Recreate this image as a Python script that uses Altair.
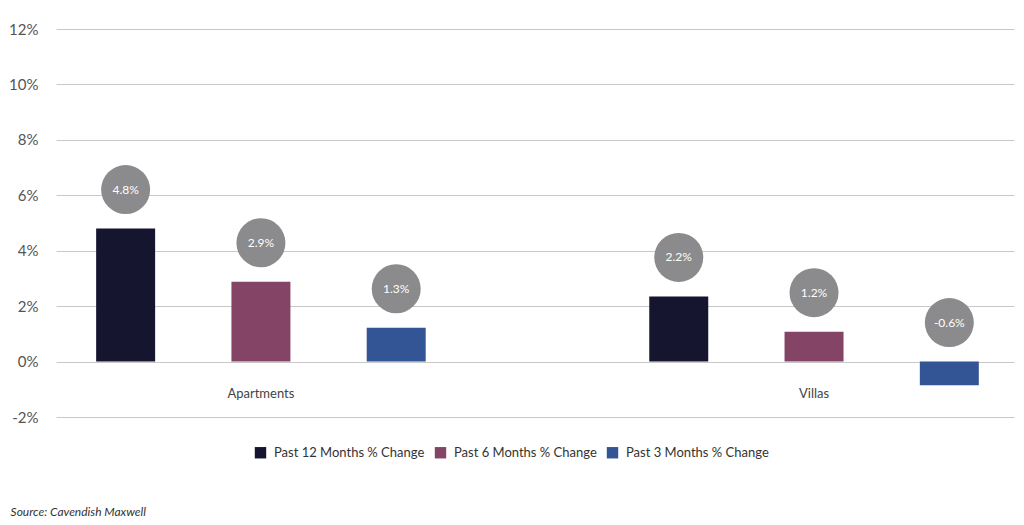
import altair as alt
import pandas as pd

categories = ["Apartments", "Villas"]
series = ["Past 12 Months % Change", "Past 6 Months % Change", "Past 3 Months % Change"]
apartments_values = [4.8, 2.88, 1.22]
villas_values = [2.35, 1.08, -0.85]
apartments_labels = ["4.8%", "2.9%", "1.3%"]
villas_labels = ["2.2%", "1.2%", "-0.6%"]
colors = ["#15152f", "#834466", "#345595"]
y_ticks = [-2, 0, 2, 4, 6, 8, 10, 12]

rows = []
for cat, vals, labs in [("Apartments", apartments_values, apartments_labels),
                        ("Villas", villas_values, villas_labels)]:
    for s, v, l in zip(series, vals, labs):
        rows.append({"category": cat, "series": s, "value": v, "label": l})
df = pd.DataFrame(rows)

FONT = "Lato"

x_enc = alt.X("category:N", sort=categories,
              scale=alt.Scale(paddingInner=0.3, paddingOuter=0.016, align=0.64),
              axis=alt.Axis(title=None, labelAngle=0, domain=False, ticks=False,
                            offset=-30, labelPadding=0, labelFontSize=13,
                            labelColor="#444", labelFont=FONT, labelBaseline="top"))
xo_enc = alt.XOffset("series:N", sort=series,
                     scale=alt.Scale(paddingInner=0.564, paddingOuter=0.213))
y_scale = alt.Scale(domain=[-2, 12], nice=False, zero=False)
y_axis = alt.Axis(values=y_ticks, labelExpr="datum.value + '%'", title=None,
                  domain=False, ticks=False, grid=True, gridColor="#c8c8c8",
                  gridWidth=1, labelPadding=18, labelFontSize=15,
                  labelColor="#555", labelFont=FONT)

base = alt.Chart(df).encode(x=x_enc, xOffset=xo_enc)

bars = base.mark_bar().encode(
    y=alt.Y("value:Q", scale=y_scale, axis=y_axis),
    color=alt.Color("series:N", sort=series,
                    scale=alt.Scale(domain=series, range=colors),
                    legend=alt.Legend(title=None, orient="none", legendX=198, legendY=417,
                                      direction="horizontal", symbolType="square",
                                      symbolSize=130, symbolStrokeWidth=0,
                                      labelFontSize=13, labelColor="#333", labelFont=FONT,
                                      columnPadding=9, labelOffset=7)),
)

circles = base.transform_calculate(pos="max(datum.value, 0)").mark_circle(
    size=2401, color="#8b8a8c", opacity=1, yOffset=-39
).encode(y=alt.Y("pos:Q", scale=y_scale, axis=y_axis))

texts = base.transform_calculate(pos="max(datum.value, 0)").mark_text(
    color="white", fontSize=12, yOffset=-39, baseline="middle", font=FONT
).encode(y=alt.Y("pos:Q", scale=y_scale, axis=y_axis), text="label:N")

chart = alt.layer(bars, circles, texts).properties(
    width=958, height=388,
    padding={"left": 48, "top": 21, "right": 2, "bottom": 104},
    autosize=alt.AutoSizeParams(type="none"),
    title=alt.TitleParams("Source: Cavendish Maxwell", orient="bottom", anchor="start",
                          dx=2, offset=47, fontSize=12, fontStyle="italic",
                          fontWeight="normal", color="#333", font=FONT),
).configure_view(stroke=None)

chart.save("out.html", embed_options={"renderer": "svg", "actions": False})
